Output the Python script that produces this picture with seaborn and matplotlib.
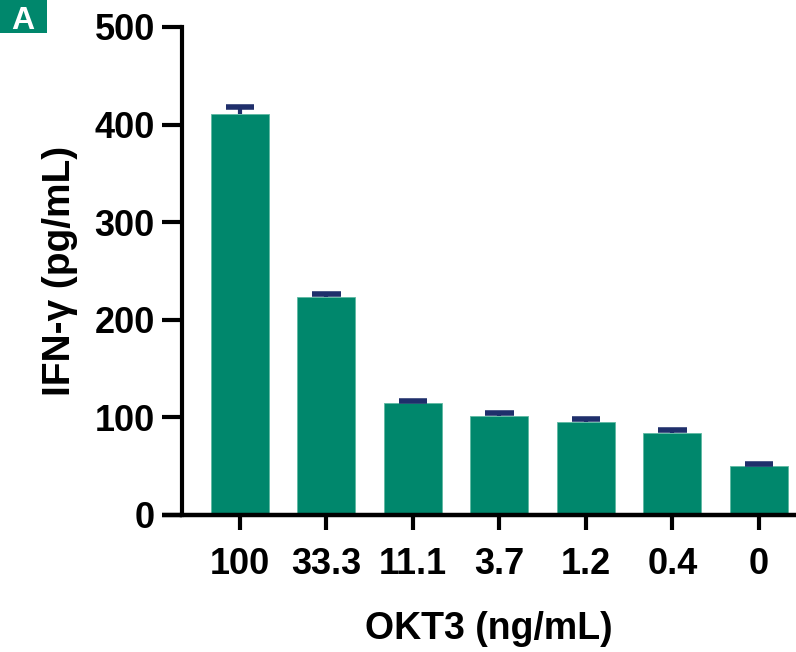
import matplotlib
matplotlib.use("Agg")
import matplotlib.pyplot as plt
import seaborn as sns
import pandas as pd
from matplotlib.patches import Rectangle

categories = ["100", "33.3", "11.1", "3.7", "1.2", "0.4", "0"]
values = [411, 223, 115, 101.5, 95.5, 84.5, 50]
errors = [7, 3, 2, 2.5, 2.5, 2.5, 2]
yticks = [0, 100, 200, 300, 400, 500]

sns.set_theme(style="ticks")
plt.rcParams['font.family'] = ['Liberation Sans', 'DejaVu Sans']
plt.rcParams['font.weight'] = 'bold'
plt.rcParams['text.color'] = 'black'
plt.rcParams['axes.labelcolor'] = 'black'
plt.rcParams['xtick.color'] = 'black'
plt.rcParams['ytick.color'] = 'black'

bar_color = "#00876C"
err_color = "#1F2F6B"

df = pd.DataFrame({"OKT3": categories, "IFN": values})

fig = plt.figure(figsize=(7.96, 6.52), dpi=100)
ax = fig.add_axes([182/796, 1-515/652, 1-182/796, (515-27)/652])

sns.barplot(data=df, x="OKT3", y="IFN", color=bar_color, saturation=1,
            width=0.67, errorbar=None, ax=ax, edgecolor="#5fb9a3", linewidth=0.6)

# upward-only error bars (stem + top cap)
xs = list(range(len(categories)))
tops = [v + e for v, e in zip(values, errors)]
half = 0.165
ax.vlines(xs, values, tops, color=err_color, lw=3, zorder=3)
ax.hlines(tops, [x - half for x in xs], [x + half for x in xs],
          color=err_color, lw=4, zorder=3)

ax.set_xlim(-0.67, 6.43)
ax.set_ylim(0, 500)
ax.set_yticks(yticks)
ax.set_yticklabels([str(t) for t in yticks])

for side in ["top", "right"]:
    ax.spines[side].set_visible(False)
ax.spines["left"].set_linewidth(3)
ax.spines["bottom"].set_linewidth(3.2)
ax.spines["left"].set_color("black")
ax.spines["bottom"].set_color("black")

ax.tick_params(axis="y", length=14.5, width=3, labelsize=26, pad=5, colors="black")
ax.tick_params(axis="x", length=11, width=3, labelsize=26, pad=12, colors="black")
for lab in ax.get_xticklabels() + ax.get_yticklabels():
    lab.set_fontweight("bold")

ax.set_xlabel("OKT3 (ng/mL)", fontsize=27, fontweight="bold", labelpad=21, color="black")
ax.set_ylabel("IFN-γ (pg/mL)", fontsize=28, fontweight="bold", labelpad=12, color="black")

# extend x axis line to the left under the 0 tick
ax.plot([-0.67 - 20/86.5, -0.67], [0, 0], color="black", lw=3.2, clip_on=False,
        solid_capstyle="butt")

# panel label
fig.patches.append(Rectangle((0, 1-33/652), 47/796, 33/652, transform=fig.transFigure,
                             facecolor=bar_color, edgecolor="none"))
fig.text(23/796, 1-29/652, "A", color="white", fontsize=23, fontweight="bold",
         ha="center", va="baseline")

fig.savefig("out.png", dpi=100)
